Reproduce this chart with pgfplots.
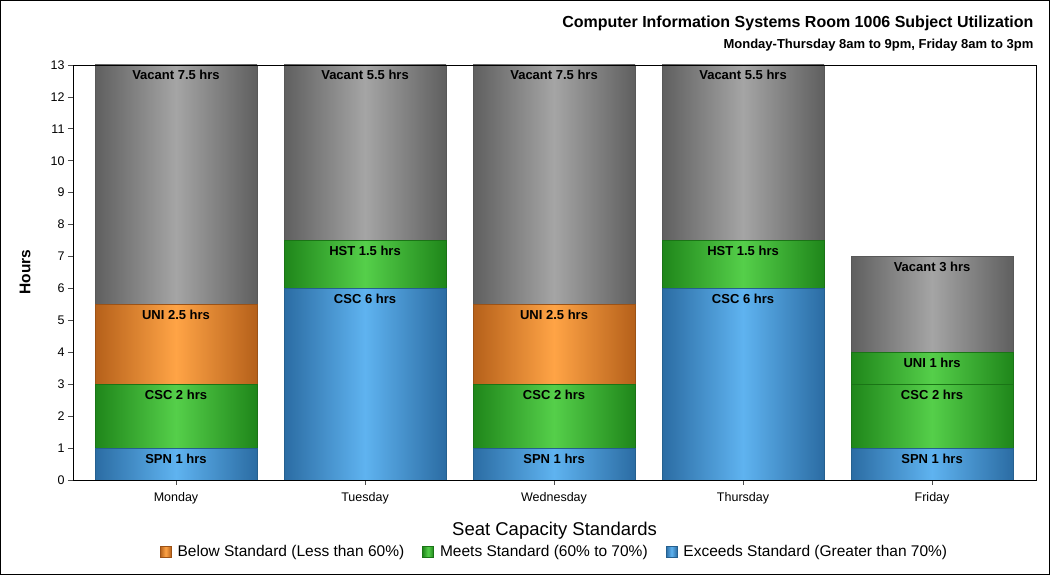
\documentclass[border=0pt]{standalone}
\usepackage{fontspec}
\setmainfont{Liberation Sans}
\setsansfont{Liberation Sans}
\usepackage{pgfplots}
\pgfplotsset{compat=1.18}

\definecolor{blueE}{HTML}{2B6CA3}
\definecolor{blueC}{HTML}{5FB3F0}
\definecolor{blueL}{HTML}{25608F}
\definecolor{greenE}{HTML}{1F861A}
\definecolor{greenC}{HTML}{55CF4A}
\definecolor{greenL}{HTML}{1A7416}
\definecolor{orangeE}{HTML}{B5601A}
\definecolor{orangeC}{HTML}{FFA446}
\definecolor{orangeL}{HTML}{9C5216}
\definecolor{grayE}{HTML}{5F5F5F}
\definecolor{grayC}{HTML}{A5A5A5}
\definecolor{grayL}{HTML}{585858}

% one axis per day so that every bar gets its own horizontal shading
\pgfplotsset{
  bluebar/.style={draw=blueL, left color=blueE, right color=blueE, middle color=blueC},
  greenbar/.style={draw=greenL, left color=greenE, right color=greenE, middle color=greenC},
  orangebar/.style={draw=orangeL, left color=orangeE, right color=orangeE, middle color=orangeC},
  graybar/.style={draw=grayL, left color=grayE, right color=grayE, middle color=grayC},
  base/.style={at={(0pt,0pt)}, anchor=south west,
    scale only axis, width=963pt, height=415pt,
    xmin=-0.545, xmax=4.55, ymin=0, ymax=13},
  day/.style={base, hide axis, ybar stacked, bar width=162pt,
    nodes near coords, point meta=explicit symbolic,
    visualization depends on={rawy \as \segh},
    every node near coord/.append style={anchor=north, yshift=\segh*15.9615pt-2pt,
      text=black, font=\bfseries\fontsize{13}{15}\selectfont}},
}

\begin{document}
\begin{tikzpicture}
\begin{axis}[day]
\addplot[bluebar] coordinates {(0,1) [SPN 1 hrs]};
\addplot[greenbar] coordinates {(0,2) [CSC 2 hrs]};
\addplot[orangebar] coordinates {(0,2.5) [UNI 2.5 hrs]};
\addplot[graybar] coordinates {(0,7.5) [Vacant 7.5 hrs]};
\end{axis}
\begin{axis}[day]
\addplot[bluebar] coordinates {(1,6) [CSC 6 hrs]};
\addplot[greenbar] coordinates {(1,1.5) [HST 1.5 hrs]};
\addplot[graybar] coordinates {(1,5.5) [Vacant 5.5 hrs]};
\end{axis}
\begin{axis}[day]
\addplot[bluebar] coordinates {(2,1) [SPN 1 hrs]};
\addplot[greenbar] coordinates {(2,2) [CSC 2 hrs]};
\addplot[orangebar] coordinates {(2,2.5) [UNI 2.5 hrs]};
\addplot[graybar] coordinates {(2,7.5) [Vacant 7.5 hrs]};
\end{axis}
\begin{axis}[day]
\addplot[bluebar] coordinates {(3,6) [CSC 6 hrs]};
\addplot[greenbar] coordinates {(3,1.5) [HST 1.5 hrs]};
\addplot[graybar] coordinates {(3,5.5) [Vacant 5.5 hrs]};
\end{axis}
\begin{axis}[day]
\addplot[bluebar] coordinates {(4,1) [SPN 1 hrs]};
\addplot[greenbar] coordinates {(4,2) [CSC 2 hrs]};
\addplot[greenbar] coordinates {(4,1) [UNI 1 hrs]};
\addplot[graybar] coordinates {(4,3) [Vacant 3 hrs]};
\end{axis}

\begin{axis}[base,
  xtick={0,...,4},
  xticklabels={Monday,Tuesday,Wednesday,Thursday,Friday},
  ytick={0,...,13},
  tick pos=left, tick align=outside,
  major tick length=5pt,
  tick style={color=black!70, line width=0.8pt},
  axis line style={line width=0.9pt},
  ticklabel style={font=\fontsize{12.5}{14}\selectfont},
  xticklabel style={yshift=-4pt},
  /pgf/number format/assume math mode=true,
  legend columns=3,
  legend cell align=left,
  legend image code/.code={\draw[#1, line width=0.8pt] (0pt,-5.5pt) rectangle (11pt,5.5pt);},
  legend style={at={(0.5,-0.1735)}, anchor=center, draw=none, fill=none,
    font=\fontsize{15.5}{17}\selectfont,
    /tikz/every odd column/.append style={column sep=4pt},
    /tikz/every even column/.append style={column sep=16pt}},
]
\addlegendimage{orangebar}
\addlegendentry{Below Standard (Less than 60\%)}
\addlegendimage{greenbar}
\addlegendentry{Meets Standard (60\% to 70\%)}
\addlegendimage{bluebar}
\addlegendentry{Exceeds Standard (Greater than 70\%)}
\end{axis}

\node[rotate=90, font=\bfseries\fontsize{15.5}{17}\selectfont] at (-48pt,208pt) {Hours};
\node[font=\fontsize{18.5}{20}\selectfont] at (481.5pt,-51pt) {Seat Capacity Standards};
\node[anchor=base east, font=\bfseries\fontsize{16}{18}\selectfont] at (964pt,452pt)
  {Computer Information Systems Room 1006 Subject Utilization};
\node[anchor=base east, font=\bfseries\fontsize{13}{15}\selectfont] at (964pt,431pt)
  {Monday-Thursday 8am to 9pm, Friday 8am to 3pm};
\draw[line width=1pt] (-72.5pt,-94.5pt) rectangle (976.5pt,479.5pt);
\end{tikzpicture}
\end{document}
